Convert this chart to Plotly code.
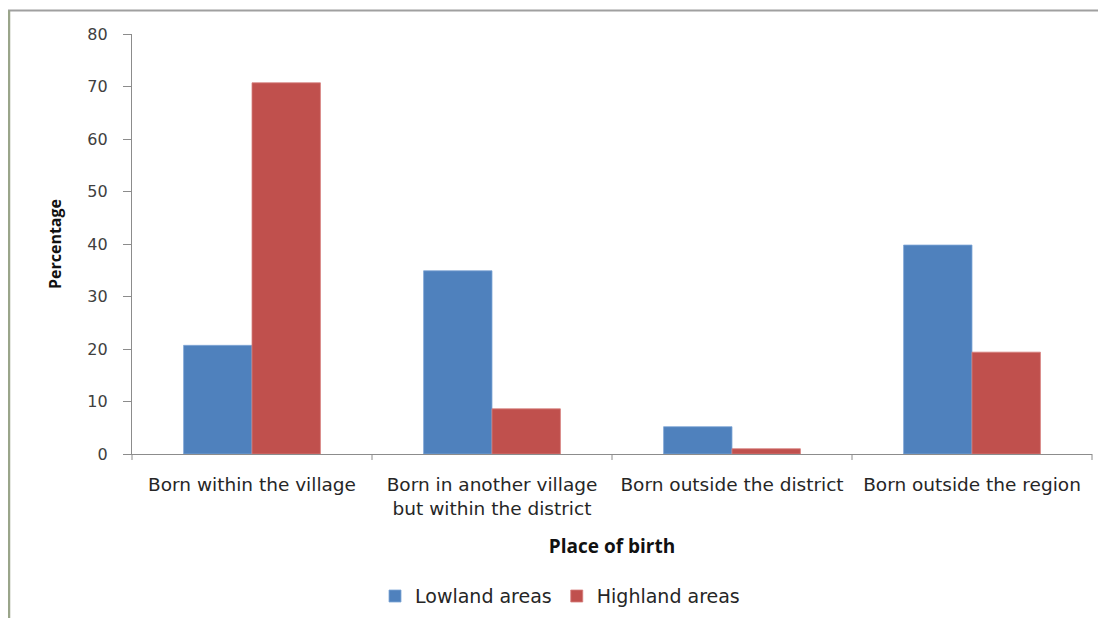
import plotly.graph_objects as go

categories = ["Born within the village",
              "Born in another village<br>but within the district",
              "Born outside the district",
              "Born outside the region"]
lowland = [20.7, 34.9, 5.2, 39.8]
highland = [70.7, 8.6, 1.0, 19.4]
series_names = ["Lowland areas", "Highland areas"]
y_ticks = [0, 10, 20, 30, 40, 50, 60, 70, 80]

# page offset of the plot div (default body margin 8px)
OFF = 8
W, H = 1106 - OFF, 619 - OFF
L, R, T, B = 132 - OFF, 1092 - OFF, 33.5 - OFF, 454.5 - OFF

fig = go.Figure()
fig.add_trace(go.Bar(x=categories, y=lowland, name=series_names[0],
                     marker=dict(color="#4F81BD", line=dict(color="#7fa6d6", width=0.8))))
fig.add_trace(go.Bar(x=categories, y=highland, name=series_names[1],
                     marker=dict(color="#C0504D", line=dict(color="#d67e7c", width=0.8))))

def px2x(p):
    return (p - OFF - L) / (R - L)

def py2y(p):
    return (B - (p - OFF)) / (B - T)

fig.update_layout(
    width=W, height=H,
    margin=dict(l=L, r=W - R, t=T, b=H - B, autoexpand=False),
    plot_bgcolor="white", paper_bgcolor="white",
    barmode="group", bargap=0.43, bargroupgap=0,
    font=dict(family="DejaVu Sans", size=15, color="#262626"),
    showlegend=True,
    legend=dict(orientation="h", x=px2x(560), xanchor="center", y=py2y(597), yanchor="middle",
                font=dict(family="DejaVu Sans", size=19, color="#262626"),
                itemwidth=30, traceorder="normal"),
    xaxis=dict(showline=True, linecolor="#8c8c8c", linewidth=1.2,
               ticks="", tickfont=dict(size=18.5, color="#262626"), ticklabelstandoff=14,
               title=dict(text="<b>Place of birth</b>", standoff=21,
                          font=dict(family="Open Sans", size=19, color="#111111"))),
    yaxis=dict(range=[0, 80], tickvals=y_ticks, showgrid=False, zeroline=False,
               showline=True, linecolor="#8c8c8c", linewidth=1.2,
               ticks="outside", ticklen=8, tickcolor="#8c8c8c",
               tickfont=dict(size=16, color="#404040"), ticklabelstandoff=12,
               title=dict(text="<b>Percentage</b>", standoff=21,
                          font=dict(family="Open Sans", size=16, color="#111111"))),
)

# category separators (tick marks between categories)
for i in range(5):
    xp = L + OFF + i * (R - L) / 4
    fig.add_shape(type="line", xref="paper", yref="paper",
                  x0=px2x(xp), x1=px2x(xp), y0=0, y1=py2y(454.5 + 6),
                  line=dict(color="#8c8c8c", width=1))

# outer frame lines
fig.add_shape(type="line", xref="paper", yref="paper",
              x0=px2x(8), x1=px2x(1106), y0=py2y(10), y1=py2y(10),
              line=dict(color="#a0a0a0", width=2))
fig.add_shape(type="line", xref="paper", yref="paper",
              x0=px2x(9), x1=px2x(9), y0=py2y(10), y1=py2y(619),
              line=dict(color="#9aa58a", width=2.5))

fig.write_html("out.html")
